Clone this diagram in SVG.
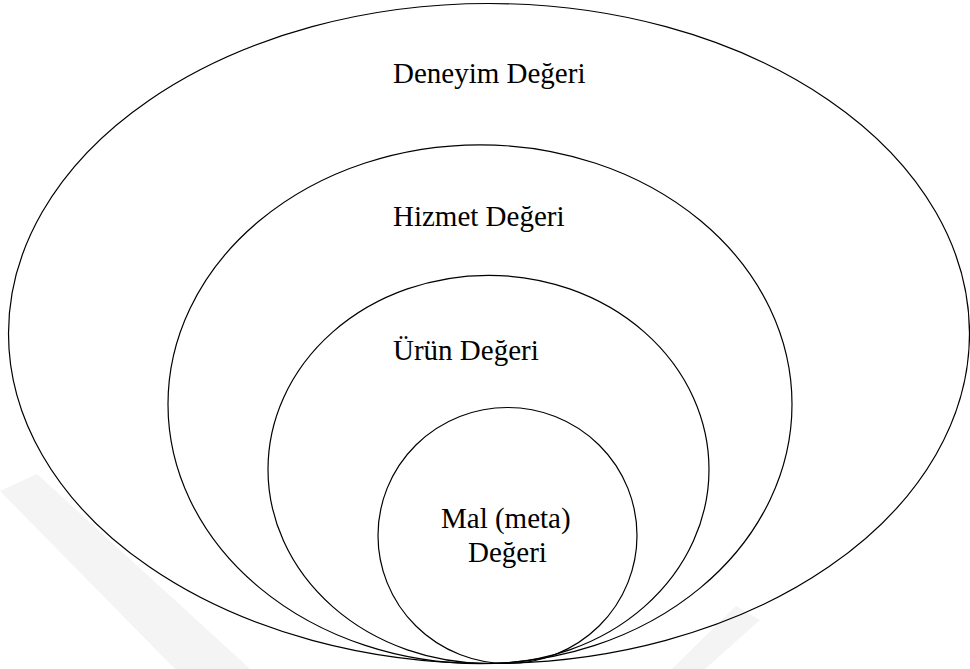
<svg xmlns="http://www.w3.org/2000/svg" width="970" height="669" viewBox="0 0 970 669">
  <style>
    .ring { fill: none; stroke: #000; stroke-width: 1.2; }
    .lbl { font-size: 29px; fill: #000; }
    .wm { fill: #f4f4f4; }
  </style>
  <rect x="0" y="0" width="970" height="669" fill="#fff"/>
  <g id="watermark">
    <polygon class="wm" points="0,491 37,474 250,669 175,669"/>
    <polygon class="wm" points="736,606 760,620 705,669 672,669"/>
  </g>
  <g font-family="Liberation Serif, Times New Roman, DejaVu Serif, serif">
  <g id="deneyim">
    <ellipse class="ring" cx="489" cy="333.5" rx="480.5" ry="330"/>
    <text class="lbl" x="393" y="82.5">Deneyim Değeri</text>
  </g>
  <g id="hizmet">
    <ellipse class="ring" cx="480" cy="404.2" rx="312" ry="259.4"/>
    <text class="lbl" x="393" y="226">Hizmet Değeri</text>
  </g>
  <g id="urun">
    <ellipse class="ring" cx="488.5" cy="469.4" rx="220.5" ry="194.1"/>
    <text class="lbl" x="393" y="360">Ürün Değeri</text>
  </g>
  <g id="mal">
    <ellipse class="ring" cx="507.5" cy="535.5" rx="129.5" ry="128"/>
    <text class="lbl" x="441" y="528">Mal (meta)</text>
    <text class="lbl" x="468" y="562">Değeri</text>
  </g>
  </g>
  <g id="connectors"/>
</svg>
